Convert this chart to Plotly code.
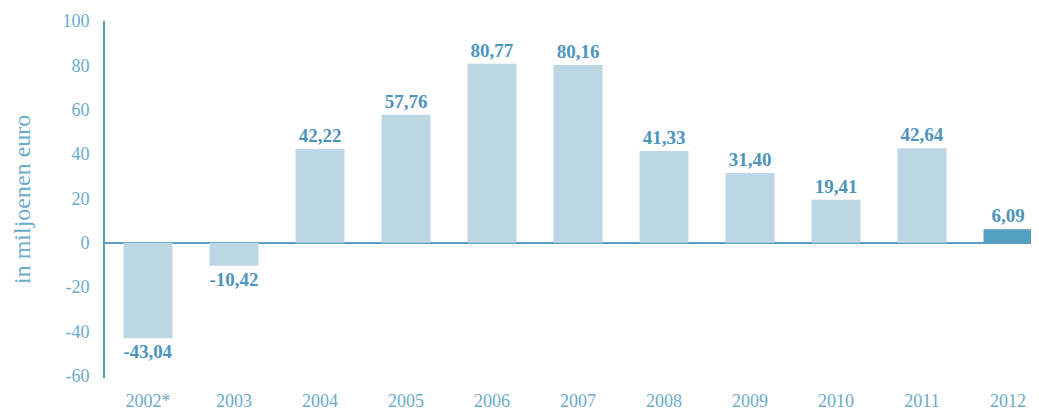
import plotly.graph_objects as go

categories = ["2002*", "2003", "2004", "2005", "2006", "2007", "2008", "2009", "2010", "2011", "2012"]
values = [-43.04, -10.42, 42.22, 57.76, 80.77, 80.16, 41.33, 31.40, 19.41, 42.64, 6.09]
y_ticks = [-60, -40, -20, 0, 20, 40, 60, 80, 100]
y_tick_text = [str(t) for t in y_ticks]

light = "#bdd6e4"
dark = "#559fc0"
bar_colors = [dark if c == "2012" else light for c in categories]
labels = [f"{v:.2f}".replace(".", ",") for v in values]

FONT = "Liberation Serif"

# the page body adds an 8px margin, so the figure is 8px smaller than the window
W, H = 1031, 403
L, T, B = 97, 12.5, 32.5
plot_h = H - T - B

fig = go.Figure()
fig.add_trace(go.Bar(
    x=categories, y=values,
    marker=dict(color=bar_colors, line=dict(width=0)),
    width=0.57,
    text=labels, textposition="outside", cliponaxis=False,
    textfont=dict(family=FONT, size=19, color="#4d94bc", weight="bold"),
    hoverinfo="skip",
))

fig.update_layout(
    width=W, height=H,
    margin=dict(l=L, r=0, t=T, b=B, autoexpand=False),
    paper_bgcolor="white", plot_bgcolor="white",
    showlegend=False,
    font=dict(family=FONT, color="#6aaccc"),
    xaxis=dict(
        range=[-0.5, 10.36], showgrid=False, showline=False, zeroline=False,
        ticks="outside", ticklen=6, tickcolor="rgba(0,0,0,0)",
        tickfont=dict(family=FONT, size=18, color="#6aaccc"),
    ),
    yaxis=dict(
        range=[-61, 100], tickvals=y_ticks, ticktext=y_tick_text, showgrid=False,
        showline=True, linecolor="#5a9fc3", linewidth=2,
        zeroline=True, zerolinecolor="#5a9fc3", zerolinewidth=2,
        ticks="outside", ticklen=10, tickcolor="rgba(0,0,0,0)",
        tickfont=dict(family=FONT, size=18, color="#6aaccc"),
    ),
    annotations=[dict(
        text="in miljoenen euro", textangle=-90,
        xref="paper", yref="paper",
        x=(14 - L) / (W - L), y=(H - B - 192) / plot_h,
        xanchor="center", yanchor="middle", showarrow=False,
        font=dict(family=FONT, size=24, color="#6aaccc"),
    )],
)

fig.write_html("out.html")
